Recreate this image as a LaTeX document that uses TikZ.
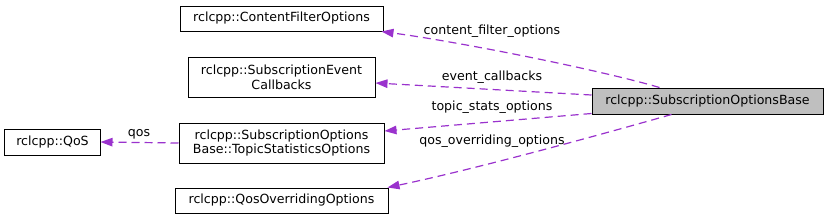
\documentclass[tikz,border=0pt]{standalone}
\usepackage{fontspec}
\setmainfont{DejaVu Sans}
\usetikzlibrary{arrows.meta,calc}
\definecolor{edgec}{HTML}{9A32CD}
\definecolor{basefill}{HTML}{BFBFBF}
\tikzset{
  cls/.style={draw=black, line width=1bp, fill=white, inner sep=0pt, align=center,
    font=\fontsize{12.6bp}{14.7bp}\selectfont},
  rel/.style={draw=edgec, line width=1.2bp, dash pattern=on 8bp off 5bp,
    -{Triangle[length=12bp,width=8.5bp,fill=edgec]}},
  lbl/.style={inner sep=0pt, font=\fontsize{12.6bp}{14.7bp}\selectfont}
}
\begin{document}
\begin{tikzpicture}[x=1bp,y=-1bp]
\useasboundingbox (0,0) rectangle (828,220);
\node[cls, minimum width=203bp, minimum height=25bp] (cfo) at (281.5,18.5) {rclcpp::ContentFilterOptions};
\node[cls, minimum width=187bp, minimum height=40bp] (sec) at (281.5,77) {rclcpp::SubscriptionEvent\\Callbacks};
\node[cls, minimum width=205bp, minimum height=40bp] (tso) at (281.5,143) {rclcpp::SubscriptionOptions\\Base::TopicStatisticsOptions};
\node[cls, minimum width=213bp, minimum height=25bp] (qoo) at (281.5,200.5) {rclcpp::QosOverridingOptions};
\node[cls, minimum width=95bp, minimum height=26bp] (qos) at (52.5,142) {rclcpp::QoS};
\node[cls, fill=basefill, minimum width=231bp, minimum height=26bp] (base) at (707.5,101) {rclcpp::SubscriptionOptionsBase};

\coordinate (b1) at ($(base.north west)+(68,0)$);
\coordinate (b2) at ($(base.west)+(0,-6)$);
\coordinate (b3) at ($(base.south west)+(0,-1)$);
\coordinate (b4) at ($(base.south west)+(80,0)$);
\coordinate (t1) at ($(cfo.south east)+(-2,0)$);
\coordinate (t2) at ($(sec.east)+(0,6)$);
\coordinate (t3) at ($(tso.east)+(0,-12)$);
\coordinate (t4) at ($(qoo.north east)+(-1,0)$);

\draw[rel] (b1) .. controls (600,70) and (460,42) .. (t1);
\draw[rel] (b2) -- (t2);
\draw[rel] (b3) -- (t3);
\draw[rel] (b4) .. controls (610,132) and (480,168) .. (t4);
\draw[rel] (tso.west) -- (qos.east);

\node[lbl] (l1) at (492,31) {content\_filter\_options};
\node[lbl] (l2) at (492,77) {event\_callbacks};
\node[lbl] (l3) at (492,107.5) {topic\_stats\_options};
\node[lbl] (l4) at (492,141) {qos\_overriding\_options};
\node[lbl] (l5) at (139,134) {qos};
\end{tikzpicture}
\end{document}
